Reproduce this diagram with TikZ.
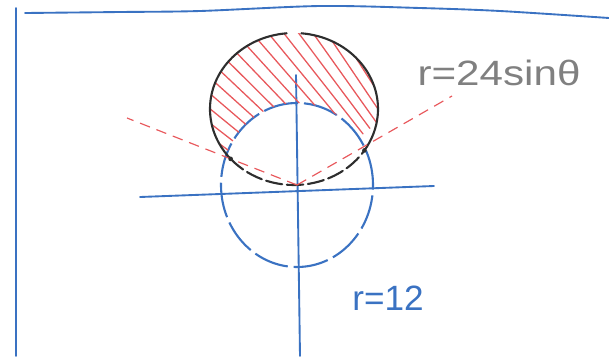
\documentclass[tikz,border=0pt]{standalone}
\usepackage{fontspec}
\setmainfont{Liberation Sans}
\usetikzlibrary{calc}
\definecolor{penb}{HTML}{3A72C2}
\definecolor{penr}{HTML}{E8585C}
\definecolor{penk}{HTML}{2E2E2E}
\definecolor{peng}{HTML}{808080}
\tikzset{
  frame/.style={draw=penb,line width=1.6pt,line cap=round},
  axis/.style={draw=penb,line width=1.6pt,line cap=round},
  bcirc/.style={draw=penb,line width=1.8pt,dash pattern=on 30pt off 5pt},
  kcirc/.style={draw=penk,line width=1.8pt,line cap=round},
  kdash/.style={kcirc,dash pattern=on 14pt off 4pt},
  ray/.style={draw=penr,line width=1pt,dash pattern=on 9pt off 6pt},
  hatch/.style={draw=penr,line width=1.1pt,line cap=round},
  dot/.style={circle,fill=penk,inner sep=0pt,minimum size=4pt},
  lbl/.style={font=\fontsize{30}{32}\selectfont,inner sep=0pt},
  krad/.style={x radius=2.52cm,y radius=2.28cm},
  brad/.style={x radius=2.28cm,y radius=2.46cm},
}
\begin{document}
\begin{tikzpicture}[x={(0.03cm,0)},y={(0,-0.03cm)}]
  \useasboundingbox (0,0) rectangle (609,356);
  % frame
  \draw[frame] (16,8) -- (16,356);
  \draw[frame] plot[smooth] coordinates {(25,13) (120,12) (200,11) (320,6) (420,8) (500,11) (609,18)};
  % axes
  \coordinate (O) at (297,185);
  \coordinate (cb) at (294,109);
  \coordinate (xl) at (140,197); \coordinate (xr) at (434,186);
  \coordinate (yt) at (296,75);  \coordinate (yb) at (300,356);
  \draw[axis] (xl) -- (xr);
  \draw[axis] (yt) -- (yb);
  % r = 12
  \draw[bcirc] (O) ellipse [brad];
  % hatched region
  \coordinate (rl) at (127,118); \coordinate (rr) at (452,96);
  \begin{scope}[even odd rule]
    \clip (rl) -- (O) -- (rr) -- (452,20) -- (127,20) -- cycle;
    \clip (cb) ellipse [krad] (O) ellipse [brad];
    \foreach \i in {0,...,17}
      \draw[hatch] ($(196,140)!\i/17!(345,20)$) ++({145-1.4*\i}:3cm) -- ++({-35-1.4*\i}:6cm);
  \end{scope}
  % r = 24 sin theta
  \draw[kcirc] ($(cb)+(95:2.52cm and 2.28cm)$) arc[start angle=95,end angle=221,krad];
  \draw[kcirc] ($(cb)+(85:2.52cm and 2.28cm)$) arc[start angle=85,end angle=-33,krad];
  \draw[kdash] ($(cb)+(221:2.52cm and 2.28cm)$) arc[start angle=221,end angle=327,krad];
  % rays
  \draw[ray] (O) -- (rl);
  \draw[ray] (O) -- (rr);
  \node[dot] (p1) at ($(cb)+(221:2.52cm and 2.28cm)$) {};
  \node[dot] (p2) at ($(cb)+(327:2.52cm and 2.28cm)$) {};
  \node[lbl,text=peng,xscale=1.2] (eqk) at (499,73) {r=24sinθ};
  \node[lbl,text=penb] (eqb) at (388,298) {r=12};
\end{tikzpicture}
\end{document}
